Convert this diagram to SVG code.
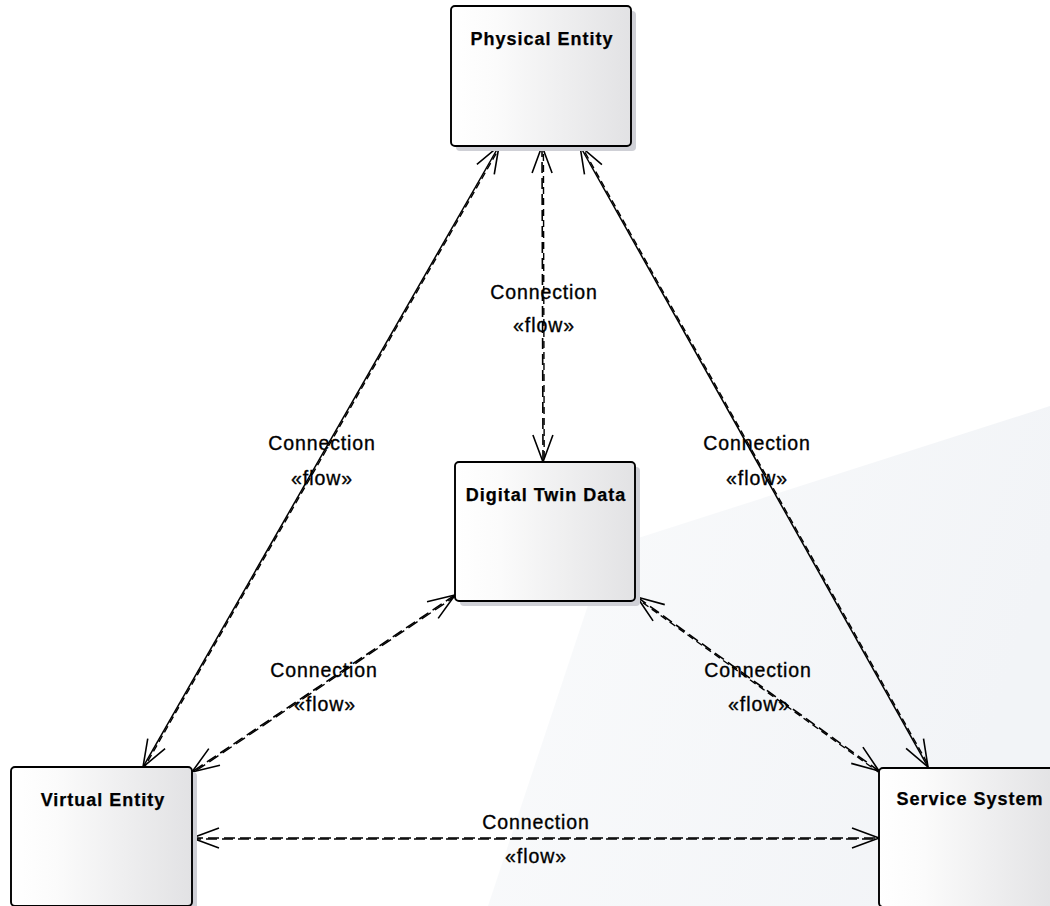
<svg xmlns="http://www.w3.org/2000/svg" width="1050" height="906" viewBox="0 0 1050 906">
  <defs>
    <linearGradient id="nodeFill" x1="0" y1="0" x2="1" y2="0">
      <stop offset="0" stop-color="#ffffff"/>
      <stop offset="0.25" stop-color="#fbfbfb"/>
      <stop offset="1" stop-color="#e2e2e4"/>
    </linearGradient>
    <linearGradient id="bgFill" x1="0" y1="0" x2="1" y2="0.3">
      <stop offset="0" stop-color="#fafbfc"/>
      <stop offset="1" stop-color="#f2f4f7"/>
    </linearGradient>
    <marker id="arrow" viewBox="-30 -13 33 26" refX="0" refY="0" markerWidth="33" markerHeight="26" markerUnits="userSpaceOnUse" orient="auto-start-reverse">
      <path d="M-27,-10 L0,0 L-27,10" fill="none" stroke="#000" stroke-width="1.6"/>
    </marker>
    <style>
      .box { fill: url(#nodeFill); stroke: #000; stroke-width: 1.9; }
      .shadow { fill: #cfd0d6; }
      .title { font-family: "Liberation Sans", Arial, sans-serif; font-weight: bold; font-size: 18px; letter-spacing: 1px; text-anchor: middle; fill: #000; stroke: #000; stroke-width: 0.25; }
      .lbl { font-family: "Liberation Sans", Arial, sans-serif; font-size: 19.5px; letter-spacing: 0.9px; text-anchor: middle; fill: #000; stroke: #000; stroke-width: 0.35; }
      .solid { stroke: #000; stroke-width: 1.5; fill: none; marker-start: url(#arrow); marker-end: url(#arrow); }
      .dash { stroke: #000; stroke-width: 1.6; fill: none; stroke-dasharray: 11 5; marker-start: url(#arrow); marker-end: url(#arrow); }
      .dash2 { stroke: #000; stroke-width: 1.4; fill: none; stroke-dasharray: 7 4; stroke-dashoffset: 3; }
      .dash3 { stroke: #000; stroke-width: 1.4; fill: none; stroke-dasharray: 11 5; stroke-dashoffset: 2; }
    </style>
  </defs>

  <rect x="0" y="0" width="1050" height="906" fill="#ffffff"/>
  <!-- faint backdrop panel -->
  <polygon points="1050,406 607,548 488,906 1050,906" fill="url(#bgFill)"/>

  <!-- connectors -->
  <g id="connectors">
    <!-- Physical Entity <-> Virtual Entity -->
    <line class="solid" x1="499" y1="146" x2="143" y2="767"/>
    <line class="dash2" x1="500.1" y1="146.7" x2="144.1" y2="767.7"/>
    <!-- Physical Entity <-> Digital Twin Data -->
    <line class="dash" x1="542" y1="146" x2="543" y2="462"/>
    <line class="dash2" x1="543.4" y1="146" x2="544.2" y2="462"/>
    <!-- Physical Entity <-> Service System -->
    <line class="solid" x1="580" y1="146" x2="928" y2="767"/>
    <line class="dash2" x1="581.1" y1="145.4" x2="929.1" y2="766.4"/>
    <!-- Digital Twin Data <-> Virtual Entity -->
    <line class="dash" x1="455" y1="595" x2="192" y2="772"/>
    <line class="dash3" x1="455.7" y1="596" x2="192.7" y2="773"/>
    <!-- Digital Twin Data <-> Service System -->
    <line class="dash" x1="637" y1="597" x2="879" y2="771"/>
    <line class="dash2" x1="636.3" y1="598" x2="878.3" y2="772"/>
    <!-- Virtual Entity <-> Service System -->
    <line class="dash" x1="192" y1="838" x2="879" y2="838"/>
    <line class="dash3" x1="192" y1="839" x2="879" y2="839" stroke-dashoffset="0"/>
  </g>

  <!-- connector labels -->
  <g id="labels">
    <text class="lbl" x="544" y="299">Connection</text>
    <text class="lbl" x="544" y="332">«flow»</text>
    <text class="lbl" x="322" y="450">Connection</text>
    <text class="lbl" x="322" y="485">«flow»</text>
    <text class="lbl" x="757" y="450">Connection</text>
    <text class="lbl" x="757" y="485">«flow»</text>
    <text class="lbl" x="324" y="677">Connection</text>
    <text class="lbl" x="325" y="711">«flow»</text>
    <text class="lbl" x="758" y="677">Connection</text>
    <text class="lbl" x="759" y="711">«flow»</text>
    <text class="lbl" x="536" y="829">Connection</text>
    <text class="lbl" x="536" y="863">«flow»</text>
  </g>

  <!-- nodes -->
  <g id="physical-entity">
    <rect class="shadow" x="456" y="11" width="180" height="140" rx="4"/>
    <rect class="box" x="451" y="6" width="180" height="140" rx="4"/>
    <text class="title" x="542" y="45">Physical Entity</text>
  </g>

  <g id="digital-twin-data">
    <rect class="shadow" x="460" y="467" width="180" height="139" rx="4"/>
    <rect class="box" x="455" y="462" width="180" height="139" rx="4"/>
    <text class="title" x="546" y="501">Digital Twin Data</text>
  </g>

  <g id="virtual-entity">
    <rect class="shadow" x="16" y="772" width="181" height="139" rx="4"/>
    <rect class="box" x="11" y="767" width="181" height="139" rx="4"/>
    <text class="title" x="103" y="806">Virtual Entity</text>
  </g>

  <g id="service-system">
    <rect class="shadow" x="884" y="773" width="180" height="139" rx="4"/>
    <rect class="box" x="879" y="768" width="180" height="139" rx="4"/>
    <text class="title" x="970" y="805">Service System</text>
  </g>
</svg>
